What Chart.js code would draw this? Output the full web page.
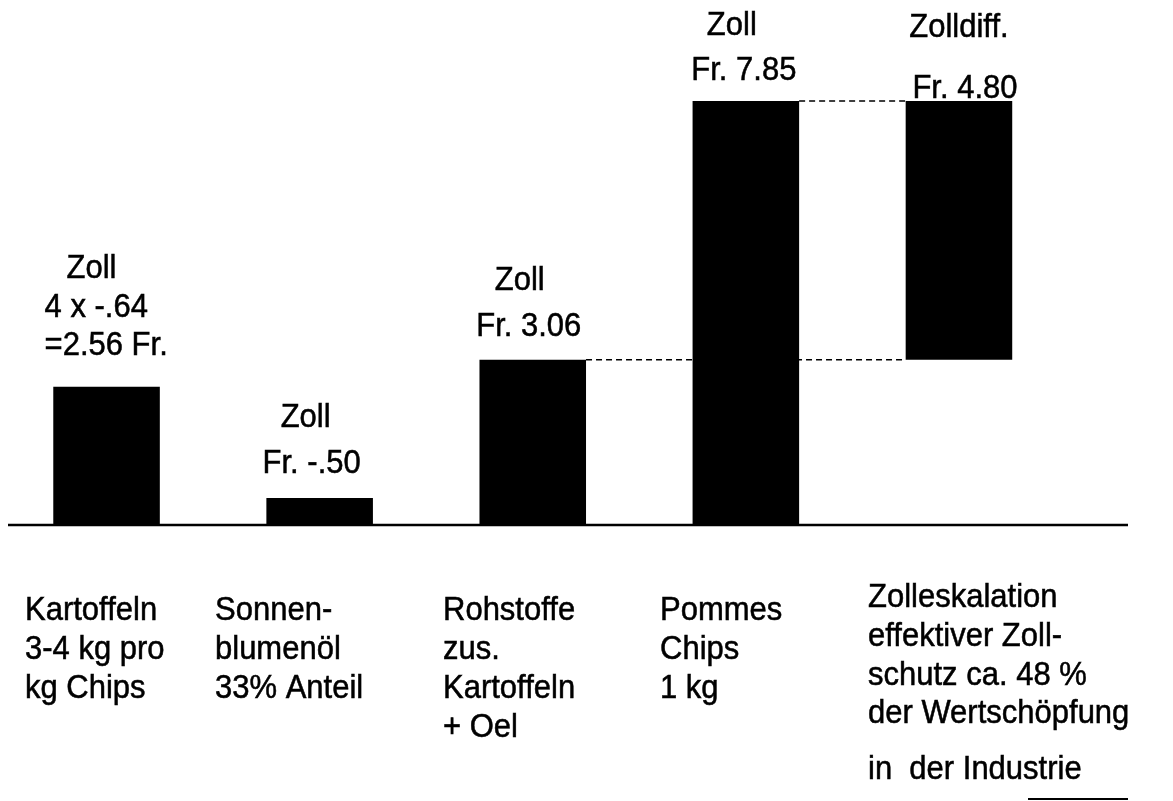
<!DOCTYPE html>
<html>
<head>
<meta charset="utf-8">
<script src="https://cdn.jsdelivr.net/npm/chart.js@4/dist/chart.umd.min.js"></script>
<style>
  html, body { margin: 0; padding: 0; background: #ffffff; }
  #wrap { width: 1173px; height: 801px; }
</style>
</head>
<body>
<div id="wrap"><canvas id="c" width="1173" height="801"></canvas></div>
<script>
// ---- data ----
const categories = [
  ["Kartoffeln", "3-4 kg pro", "kg Chips"],
  ["Sonnen-", "blumenöl", "33% Anteil"],
  ["Rohstoffe", "zus.", "Kartoffeln", "+ Oel"],
  ["Pommes", "Chips", "1 kg"],
  ["Zolleskalation", "effektiver Zoll-", "schutz ca. 48 %", "der Wertschöpfung", "in  der Industrie"]
];
const barStart = [0, 0, 0, 0, 3.06];
const barEnd   = [2.56, 0.50, 3.06, 7.85, 7.85];
const valueLabels = [
  ["Zoll", "4 x -.64", "=2.56 Fr."],
  ["Zoll", "Fr. -.50"],
  ["Zoll", "Fr. 3.06"],
  ["Zoll", "Fr. 7.85"],
  ["Zolldiff.", "Fr. 4.80"]
];
// connectors: [fromBarIndex, toBarIndex, value]
const connectors = [[2, 4, 3.06], [3, 4, 7.85]];

// ---- styling (positions of annotation text relative to bars) ----
const FONT = '31px "Liberation Sans", Arial, sans-serif';
const SCALE_Y = 1.1;
const valueLabelStyle = [
  { align: 'left',   pos: [[-40, -118], [-62, -79], [-62, -41]] },
  { align: 'center', pos: [[-14, -80], [-8, -34]] },
  { align: 'center', pos: [[-13, -79], [-4, -33]] },
  { align: 'center', pos: [[-14, -75], [-2, -30]] },
  { align: 'center', pos: [[0, -73], [6, -12]] }
];
const catLabelStyle = [
  { x: 25,  lines: [611, 650, 689] },
  { x: 215, lines: [611, 650, 689] },
  { x: 443, lines: [611, 650, 689, 728] },
  { x: 660, lines: [611, 650, 689] },
  { x: 868, lines: [598, 637, 676, 714, 770] }
];

function drawText(ctx, t, x, y) {
  ctx.save();
  ctx.translate(x, y);
  ctx.scale(1, SCALE_Y);
  ctx.fillText(t, 0, 0);
  ctx.lineWidth = 0.5;
  ctx.strokeText(t, 0, 0);
  ctx.restore();
}

const annotate = {
  id: 'annotate',
  afterDatasetsDraw(chart) {
    const ctx = chart.ctx;
    const meta = chart.getDatasetMeta(0);
    const y = chart.scales.y;
    ctx.save();
    // baseline
    ctx.strokeStyle = '#000';
    ctx.lineWidth = 2.5;
    ctx.beginPath();
    ctx.moveTo(8, y.getPixelForValue(0));
    ctx.lineTo(1128, y.getPixelForValue(0));
    ctx.stroke();
    // dashed connectors
    ctx.lineWidth = 1.5;
    ctx.setLineDash([6, 4]);
    connectors.forEach(([a, b, v]) => {
      const ea = meta.data[a], eb = meta.data[b];
      const py = y.getPixelForValue(v);
      ctx.beginPath();
      ctx.moveTo(ea.x + ea.width / 2, py);
      ctx.lineTo(eb.x - eb.width / 2, py);
      ctx.stroke();
    });
    ctx.setLineDash([]);
    // text
    ctx.fillStyle = '#000';
    ctx.strokeStyle = '#000';
    ctx.font = FONT;
    ctx.textBaseline = 'middle';
    meta.data.forEach((el, i) => {
      const top = Math.min(el.y, el.base);
      const st = valueLabelStyle[i];
      ctx.textAlign = st.align;
      valueLabels[i].forEach((t, j) => {
        drawText(ctx, t, el.x + st.pos[j][0], top + st.pos[j][1]);
      });
      const cs = catLabelStyle[i];
      ctx.textAlign = 'left';
      categories[i].forEach((t, j) => {
        drawText(ctx, t, cs.x, cs.lines[j]);
      });
    });
    // underline under last text line
    ctx.lineWidth = 2;
    ctx.beginPath();
    ctx.moveTo(1028, 799);
    ctx.lineTo(1128, 799);
    ctx.stroke();
    ctx.restore();
  }
};

new Chart(document.getElementById('c'), {
  type: 'bar',
  data: {
    labels: categories.map(c => c.join(' ')),
    datasets: [{
      data: barStart.map((s, i) => [s, barEnd[i]]),
      backgroundColor: '#000',
      borderWidth: 0,
      barPercentage: 0.5,
      categoryPercentage: 1.0
    }]
  },
  options: {
    responsive: false,
    animation: false,
    layout: { padding: { left: 0, right: 107.5, top: 0, bottom: 276 } },
    plugins: { legend: { display: false }, tooltip: { enabled: false } },
    scales: {
      x: { display: false },
      y: { display: false, min: 0, max: 9.72 }
    }
  },
  plugins: [annotate]
});
</script>
</body>
</html>
